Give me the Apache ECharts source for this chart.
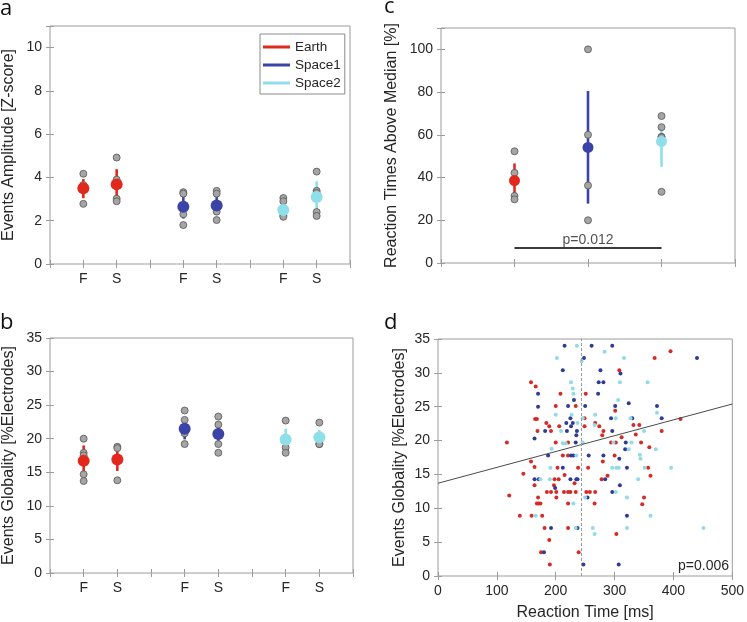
<!DOCTYPE html>
<html><head><meta charset="utf-8">
<script src="https://cdn.jsdelivr.net/npm/echarts@6/dist/echarts.min.js"></script>
<style>html,body{margin:0;padding:0;background:#fff}#c{width:747px;height:622px}</style>
</head><body><div id="c"></div>
<script>
// ---------- data ----------
const groups = ['Earth', 'Space1', 'Space2'];
const conditions = ['F', 'S'];
const xTickLabels = ['', 'F', 'S', '', 'F', 'S', '', 'F', 'S', ''];
const groupColors = ['#e2271d', '#3b43a8', '#8fdfea'];
const scatterColors = ['#d62a26', '#2f3b97', '#92dbe6'];

// panel a: Events Amplitude (order: Earth F, Earth S, Space1 F, Space1 S, Space2 F, Space2 S)
const ampMean = [3.5, 3.68, 2.65, 2.7, 2.5, 3.1];
const ampLow  = [3.04, 3.1, 2.1, 2.27, 2.2, 2.35];
const ampHigh = [3.93, 4.38, 3.19, 3.19, 2.85, 3.82];
const ampPoints = [
  [4.17, 3.65, 3.45, 2.78],
  [4.92, 3.9, 3.02, 2.9],
  [3.32, 3.25, 2.3, 1.8],
  [3.38, 3.25, 2.42, 2.03],
  [3.05, 2.9, 2.25, 2.18],
  [4.27, 3.38, 3.28, 2.4, 2.22]
];

// panel b: Events Globality
const glbMean = [16.7, 16.9, 21.5, 20.7, 19.9, 20.2];
const glbLow  = [14.7, 15.2, 19.9, 19.2, 18.4, 19.2];
const glbHigh = [19.0, 18.7, 22.8, 22.1, 21.5, 21.3];
const glbPoints = [
  [20.0, 17.9, 17.5, 14.7, 13.7],
  [18.8, 18.6, 13.8],
  [24.2, 22.8, 20.8, 19.2],
  [23.3, 22.1, 19.2, 17.9],
  [22.7, 18.7, 17.9],
  [22.4, 19.2, 19.2]
];

// panel c: Reaction Times Above Median
const rtMean = [38.6, 54.1, 56.9];
const rtLow  = [30.6, 27.8, 45.0];
const rtHigh = [46.6, 80.5, 64.5];
const rtPoints = [
  [52.3, 42.2, 31.4, 29.8],
  [100, 60, 36.3, 20],
  [68.8, 63.6, 59.1, 58.8, 33.3]
];
const pBar = [[1, 7], [3, 7]];
const pBarText = 'p=0.012';

// panel d: Reaction time [ms] vs Events Globality [%]
const earthRT = [
  [117,19.7],[121,11.9],[139,8.9],[145,15.1],[158,28.6],[166,28.0],[165,23.2],[168,23.2],[169,21.4],[158,16.9],[164,16.1],[164,13.4],[159,8.9],
  [208,26.9],[251,26.9],[200,25.1],[234,25.1],[301,24.4],[308,30.4],[249,23.3],[184,22.6],[267,22.6],[274,22.1],[189,22.1],[206,22.1],[249,22.1],[192,21.4],[281,21.4],[279,20.8],[312,20.5],[200,19.7],[221,19.7],[294,19.7],[302,19.7],
  [395,33.2],[368,32.2],[412,23.2],[332,22.3],[342,22.3],[380,21.4],[336,20.9],[345,19.7],[359,19.0],
  [212,17.8],[221,17.8],[300,17.8],[203,16.0],[238,16.0],[255,16.0],[280,16.9],[198,14.3],[205,14.3],[215,14.9],[232,13.7],[278,14.3],[288,14.8],[197,13.4],[185,12.4],[192,12.4],[201,12.4],[214,12.4],[221,12.4],[225,12.4],[234,12.4],[252,12.4],[258,12.4],[267,12.4],[201,11.6],[170,11.6],[168,10.7],[171,10.7],[174,10.7],[221,10.7],[266,10.7],[177,8.9],[181,7.1],[221,7.1],[303,6.2],[189,5.3],[175,3.5],[239,3.5],[190,1.7],
  [357,16.0],[361,14.8],[350,11.6],[347,10.6]
];
const space1RT = [
  [170,26.9],[170,25.0],[164,20.3],[215,34.0],[261,34.0],[296,34.0],[248,32.2],[212,30.4],[276,30.4],[310,29.9],[273,28.6],[281,28.6],[272,26.9],[231,26.0],[324,25.5],[221,25.1],[250,25.1],[301,25.1],[330,23.3],[294,23.3],[225,23.3],[218,22.6],[229,22.6],[226,22.1],[182,21.4],[219,21.4],[236,21.4],[296,21.4],[235,20.8],[234,19.7],[319,19.7],[318,18.7],
  [440,32.2],[372,25.1],[380,23.3],
  [164,14.3],[187,17.8],[226,17.8],[230,17.8],[256,17.8],[281,17.8],[308,17.3],[212,16.0],[321,16.0],[171,14.3],[225,14.3],[235,14.3],[237,14.3],[284,14.3],[199,13.0],[309,13.4],[296,12.4],[254,11.6],[321,8.9],[192,7.1],[237,7.1],[180,3.5],[247,1.7],[307,1.7]
];
const space2RT = [
  [236,34.0],[283,33.1],[202,32.2],[244,31.7],[316,32.2],[226,28.6],[309,28.6],[229,27.7],[230,26.9],[306,26.0],[200,23.8],[227,23.8],[267,23.8],[327,23.3],[237,22.6],[246,23.3],[302,23.3],[266,22.3],[209,21.4],[212,19.6],[217,19.6],[246,19.7],[298,19.7],[329,19.7],[193,18.8],[324,18.7],
  [356,28.6],[372,24.1],[350,21.4],[370,18.7],[343,17.9],
  [235,17.8],[191,16.0],[296,16.0],[303,16.0],[307,16.0],[174,14.3],[190,14.3],[302,12.4],[250,11.6],[321,11.6],[230,10.7],[166,8.9],[234,7.1],[263,7.1],[266,6.2],[321,7.1],
  [344,17.3],[351,16.0],[396,16.0],[340,14.3],[361,8.9],[451,7.1]
];
const fitLine = [[0, 13.7], [500, 25.4]];
const medianRT = 244;
const fitText = 'p=0.006';

// ---------- styling helpers ----------
const AX = '#9c9c9c', TXT = '#262626';
const FONT = '"Liberation Sans", Arial, sans-serif';
const tickStyle = {show: true, inside: true, length: 4, lineStyle: {color: AX}};
const nameStyle = {color: TXT, fontSize: 16, fontFamily: FONT};

const grids = [
  {left: 49, top: 26, width: 301, height: 238},
  {left: 49, top: 338, width: 304, height: 235},
  {left: 441, top: 28, width: 294, height: 235},
  {left: 438, top: 339, width: 297, height: 237}
].map(g => Object.assign({show: true, borderColor: AX, borderWidth: 1, backgroundColor: '#fff'}, g));

function xPair(gi, min, max, interval, fmt, name, nameGap) {
  const base = {type: 'value', gridIndex: gi, min, max, interval,
    axisLine: {show: false}, splitLine: {show: false}, axisTick: tickStyle};
  return [
    Object.assign({}, base, {position: 'bottom',
      axisLabel: {show: !!fmt, formatter: fmt, color: TXT, fontSize: 14, fontFamily: FONT, margin: 8, showMinLabel: true, showMaxLabel: true},
      name: name || '', nameLocation: 'middle', nameGap: nameGap || 30, nameTextStyle: nameStyle}),
    Object.assign({}, base, {position: 'top', axisLabel: {show: false}})
  ];
}
function yPair(gi, min, max, interval, name, nameGap) {
  const base = {type: 'value', gridIndex: gi, min, max, interval,
    axisLine: {show: false}, splitLine: {show: false}, axisTick: tickStyle};
  return [
    Object.assign({}, base, {position: 'left',
      axisLabel: {color: TXT, fontSize: 14, fontFamily: FONT, margin: 8,
        formatter: v => (Math.abs(v / interval - Math.round(v / interval)) < 1e-9 ? String(v) : '')},
      name, nameLocation: 'middle', nameGap, nameTextStyle: nameStyle}),
    Object.assign({}, base, {position: 'right', axisLabel: {show: false}})
  ];
}

const xAxes = [].concat(
  xPair(0, 0, 9, 1, v => xTickLabels[v] || ''),
  xPair(1, 0, 9, 1, v => xTickLabels[v] || ''),
  xPair(2, 0, 4, 1, null),
  xPair(3, 0, 500, 100, v => String(v), 'Reaction Time [ms]', 29)
);
const yAxes = [].concat(
  yPair(0, 0, 11, 2, 'Events Amplitude [Z-score]', 33),
  yPair(1, 0, 35, 5, 'Events Globality [%Electrodes]', 33),
  yPair(2, 0, 110, 20, 'Reaction Times Above Median [%]', 41),
  yPair(3, 0, 35, 5, 'Events Globality [%Electrodes]', 30)
);

function errRender(color) {
  return function (params, api) {
    const p1 = api.coord([api.value(0), api.value(1)]);
    const p2 = api.coord([api.value(0), api.value(2)]);
    return {type: 'line', shape: {x1: p1[0], y1: p1[1], x2: p2[0], y2: p2[1]},
      style: {stroke: color, lineWidth: 2.6}};
  };
}

const series = [];
function addGroupPanel(gi, means, lows, highs, points, xOf, meanSize) {
  groups.forEach((g, k) => {
    const idxs = means.length === groups.length ? [k] : [2 * k, 2 * k + 1];
    const color = groupColors[k];
    series.push({type: 'custom', xAxisIndex: 2 * gi, yAxisIndex: 2 * gi, z: 2,
      renderItem: errRender(color), encode: {x: 0, y: [1, 2]},
      data: idxs.map(i => [xOf(i), lows[i], highs[i]])});
    const grey = [];
    idxs.forEach(i => points[i].forEach(v => grey.push([xOf(i), v])));
    series.push({type: 'scatter', xAxisIndex: 2 * gi, yAxisIndex: 2 * gi, z: 3,
      symbolSize: 7, data: grey,
      itemStyle: {color: '#a5a5a5', borderColor: '#555', borderWidth: 0.8, opacity: 1}});
    series.push({type: 'scatter', name: g, xAxisIndex: 2 * gi, yAxisIndex: 2 * gi, z: 4,
      symbolSize: meanSize, data: idxs.map(i => [xOf(i), means[i]]),
      itemStyle: {color, opacity: 1}});
  });
}
// condition index i -> x position: group*3 + cond + 1
const xFS = i => Math.floor(i / conditions.length) * 3 + (i % conditions.length) + 1;
addGroupPanel(0, ampMean, ampLow, ampHigh, ampPoints, xFS, 12);
addGroupPanel(1, glbMean, glbLow, glbHigh, glbPoints, xFS, 12);
addGroupPanel(2, rtMean, rtLow, rtHigh, rtPoints, i => i + 1, 11);

// p bar in panel c
series.push({type: 'line', xAxisIndex: 4, yAxisIndex: 4, data: pBar, symbol: 'none', z: 1,
  lineStyle: {color: '#3a3a3a', width: 2}, silent: true});
series.push({type: 'scatter', xAxisIndex: 4, yAxisIndex: 4, symbolSize: 0,
  data: [[(pBar[0][0] + pBar[1][0]) / 2, pBar[0][1]]],
  label: {show: true, position: 'top', distance: 1, formatter: pBarText, color: TXT, fontSize: 14, fontFamily: FONT}});

// panel d
[earthRT, space1RT, space2RT].forEach((d, k) => {
  const s = {type: 'scatter', xAxisIndex: 6, yAxisIndex: 6, symbolSize: 4, data: d, z: 3,
    itemStyle: {color: scatterColors[k], opacity: 1}};
  if (k === 0) {
    s.markLine = {symbol: 'none', silent: true, label: {show: false},
      lineStyle: {type: [3, 2], color: '#9a9a9a', width: 1}, data: [{xAxis: medianRT}]};
  }
  series.push(s);
});
series.push({type: 'line', xAxisIndex: 6, yAxisIndex: 6, data: fitLine, symbol: 'none', z: 4,
  lineStyle: {color: '#4a4a4a', width: 1}, silent: true});

const letterStyle = {fontSize: 22, fontFamily: '"Open Sans", sans-serif', fill: '#111', verticalAlign: 'middle'};
const option = {
  animation: false,
  backgroundColor: '#fff',
  grid: grids,
  xAxis: xAxes,
  yAxis: yAxes,
  legend: {
    left: 260, top: 34, orient: 'vertical', itemWidth: 27, itemHeight: 3, itemGap: 2,
    padding: [5, 4, 3, 3], backgroundColor: '#fff', borderColor: '#8a8a8a', borderWidth: 1,
    textStyle: {color: TXT, fontSize: 13.5, fontFamily: FONT, lineHeight: 16},
    data: groups.map((g, k) => ({name: g, icon: 'rect', itemStyle: {color: groupColors[k]}}))
  },
  graphic: [
    {type: 'text', left: 0, top: -2, style: Object.assign({text: 'a'}, letterStyle)},
    {type: 'text', left: 0, top: 312, style: Object.assign({text: 'b'}, letterStyle)},
    {type: 'text', left: 384, top: -4, style: Object.assign({text: 'c'}, letterStyle)},
    {type: 'text', left: 384, top: 312, style: Object.assign({text: 'd'}, letterStyle)},
    {type: 'text', right: 18, top: 559, style: {text: fitText, fontSize: 14, fontFamily: FONT, fill: TXT}}
  ],
  series
};
const chart = echarts.init(document.getElementById('c'), null, {renderer: 'canvas'});
chart.setOption(option);
</script></body></html>
